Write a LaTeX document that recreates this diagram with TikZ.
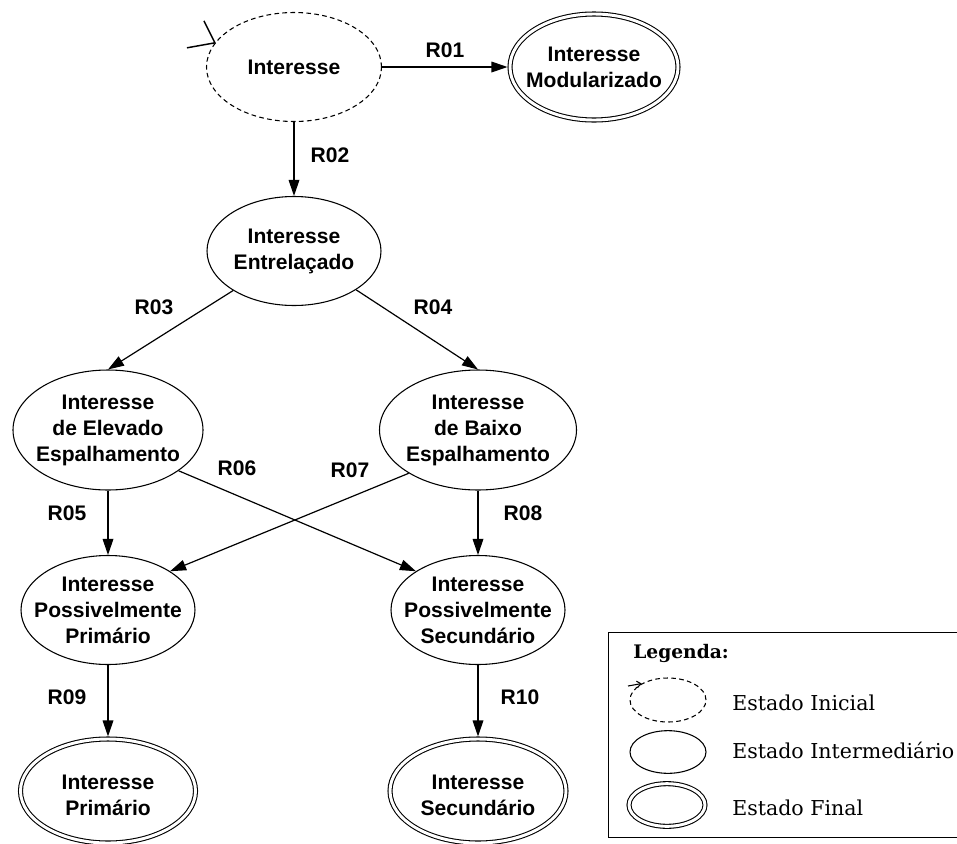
\documentclass[tikz,border=0pt]{standalone}
\usepackage{fontspec}
\newfontfamily\sansb{Liberation Sans}
\newfontfamily\legf{DejaVu Serif}
\usetikzlibrary{arrows.meta,shapes.geometric}
\begin{document}
\begin{tikzpicture}[x=0.75pt,y=-0.75pt,
  state/.style={ellipse, draw, line width=0.8pt, inner sep=0pt, outer sep=0.4pt},
  initstate/.style={state, dash pattern=on 3.5pt off 2.5pt},
  finalstate/.style={state, double, double distance=2.2pt, outer sep=1.9pt},
  txt/.style={font=\sansb\bfseries\fontsize{15.8}{19.5}\selectfont, align=center, inner sep=0pt},
  rl/.style={font=\sansb\bfseries\fontsize{15.8}{19}\selectfont, inner sep=0pt},
  tr/.style={-{Triangle[length=12pt,width=8pt]}, line width=0.9pt},
  legtxt/.style={font=\legf\fontsize{15.4}{18}\selectfont, anchor=west, inner sep=0pt},
  legtitle/.style={font=\legf\bfseries\fontsize{14}{17}\selectfont, anchor=west, inner sep=0pt}
]
\useasboundingbox (0,0) rectangle (957,843);

% states
\node[initstate, minimum width=131.25pt, minimum height=81.75pt] (init) at (294,67) {};
\node[txt] (init-t) at (init) {Interesse};
\node[finalstate, minimum width=126pt, minimum height=79.5pt] (modul) at (594,67) {};
\node[txt] (modul-t) at (modul) {Interesse\\Modularizado};
\node[state, minimum width=130.5pt, minimum height=81.75pt] (entre) at (294,251) {};
\node[txt] (entre-t) at (entre) {Interesse\\Entrelaçado};
\node[state, minimum width=142.5pt, minimum height=90pt] (elev) at (108,430) {};
\node[txt] (elev-t) at (elev) {Interesse\\de Elevado\\Espalhamento};
\node[state, minimum width=147.75pt, minimum height=90pt] (baixo) at (478,430) {};
\node[txt] (baixo-t) at (baixo) {Interesse\\de Baixo\\Espalhamento};
\node[state, minimum width=130.5pt, minimum height=81.75pt] (pprim) at (108,610) {};
\node[txt] (pprim-t) at (pprim) {Interesse\\Possivelmente\\Primário};
\node[state, minimum width=130.5pt, minimum height=81.75pt] (psec) at (478,610) {};
\node[txt] (psec-t) at (psec) {Interesse\\Possivelmente\\Secundário};
\node[finalstate, minimum width=131.25pt, minimum height=78pt] (fprim) at (108,791) {};
\node[txt] (fprim-t) at ([yshift=-3pt]fprim.center) {Interesse\\Primário};
\node[finalstate, minimum width=132pt, minimum height=78pt] (fsec) at (478,791) {};
\node[txt] (fsec-t) at ([yshift=-3pt]fsec.center) {Interesse\\Secundário};

% initial marker
\draw[line width=1.1pt] (init.163) ++(-28,5) -- (init.163) -- ++(-11,-22);

% transitions
\draw[tr] (init) -- (modul);
\draw[tr] (init) -- (entre);
\draw[tr] (entre.213) -- (elev.north);
\draw[tr] (entre.328) -- (baixo.north);
\draw[tr] (elev) -- (pprim);
\draw[tr] (baixo) -- (psec);
\draw[tr] (elev.330) -- (psec.148);
\draw[tr] (baixo.212) -- (pprim.32);
\draw[tr] (pprim) -- (fprim);
\draw[tr] (psec) -- (fsec);

% transition labels
\node[rl] (r01) at (445,50) {R01};
\node[rl] (r02) at (330,155) {R02};
\node[rl] (r03) at (154,307) {R03};
\node[rl] (r04) at (433,307) {R04};
\node[rl] (r05) at (67,513) {R05};
\node[rl] (r06) at (237,468) {R06};
\node[rl] (r07) at (350,470) {R07};
\node[rl] (r08) at (523,513) {R08};
\node[rl] (r09) at (67,697) {R09};
\node[rl] (r10) at (520,697) {R10};

% legend
\node[draw, line width=0.8pt, anchor=north west, inner sep=0pt, minimum width=261.4pt, minimum height=153.75pt] (legbox) at (608,632) {};
\node[legtitle] (legt) at (633,653) {Legenda:};
\node[initstate, minimum width=57pt, minimum height=33pt] (lini) at (668,700) {};
\coordinate (lstart) at (628,686);
\draw[line width=0.8pt, -{Straight Barb[length=3pt,width=5pt]}] (lstart) -- (lini.148);
\node[legtxt] (lini-t) at (732,703) {Estado Inicial};
\node[state, minimum width=57pt, minimum height=32pt] (lmid) at (668,752) {};
\node[legtxt] (lmid-t) at (732,750) {Estado Intermediário};
\node[finalstate, minimum width=57pt, minimum height=32pt] (lfin) at (667,805) {};
\node[legtxt] (lfin-t) at (732,808) {Estado Final};
\end{tikzpicture}
\end{document}
